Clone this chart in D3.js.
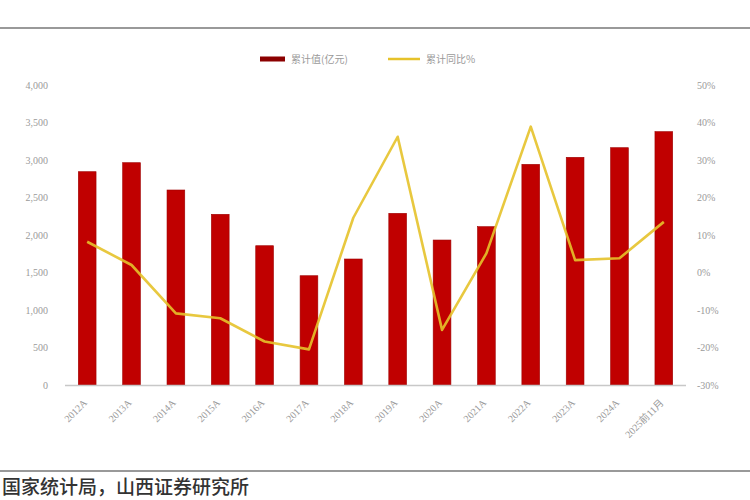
<!DOCTYPE html>
<html><head><meta charset="utf-8">
<script src="https://cdn.jsdelivr.net/npm/d3@7"></script>
<style>body{margin:0;background:#fff;overflow:hidden}</style>
</head><body>
<svg id="c" width="750" height="500"></svg>
<script>
const categories = ["2012A","2013A","2014A","2015A","2016A","2017A","2018A","2019A","2020A","2021A","2022A","2023A","2024A","2025前11月"];
const cumValue = [2844,2964,2600,2276,1857,1457,1680,2289,1933,2111,2942,3036,3164,3378];
const cumYoY = [8.2,2.0,-10.9,-12.2,-18.4,-20.5,14.6,36.2,-15.3,5.1,38.9,3.3,3.8,13.5];
const leftTicks = [0,500,1000,1500,2000,2500,3000,3500,4000];
const rightTicks = [-30,-20,-10,0,10,20,30,40,50];
const seriesNames = ["累计值(亿元)","累计同比%"];
const sourceText = "国家统计局，山西证券研究所";

const svg = d3.select("#c");
const barColor = "#C00000", lineColor = "#E6C22A", tickColor = "#9a9a9a";
const x = d3.scaleBand().domain(categories).range([65,686]).paddingInner(0.6).paddingOuter(0.3);
const yL = d3.scaleLinear().domain([0,4000]).range([385,85]);
const yR = d3.scaleLinear().domain([-30,50]).range([385,85]);

// frame lines
svg.append("line").attr("x1",0).attr("x2",750).attr("y1",28).attr("y2",28).attr("stroke","#999").attr("stroke-width",2);
svg.append("line").attr("x1",0).attr("x2",750).attr("y1",471).attr("y2",471).attr("stroke","#999").attr("stroke-width",2);

// bars
svg.append("g").selectAll("rect").data(cumValue).join("rect")
  .attr("x",(d,i)=>x(categories[i]))
  .attr("width",x.bandwidth())
  .attr("y",d=>yL(d))
  .attr("height",d=>yL(0)-yL(d))
  .attr("fill",barColor).attr("stroke","#9e0000").attr("stroke-width",0.6);

// baseline
svg.append("line").attr("x1",65).attr("x2",686).attr("y1",yL(0)+0.5).attr("y2",yL(0)+0.5).attr("stroke","#c8c8c8").attr("stroke-width",1.5);

// line
const line = d3.line().x((d,i)=>x(categories[i])+x.bandwidth()/2).y(d=>yR(d));
svg.append("path").datum(cumYoY).attr("d",line).attr("fill","none")
  .attr("stroke",lineColor).attr("stroke-width",2.6).attr("stroke-linejoin","round").attr("opacity",0.9);

// left axis
const gL = svg.append("g").attr("transform","translate(48,0)")
  .call(d3.axisLeft(yL).tickValues(leftTicks).tickSize(0).tickPadding(0).tickFormat(d3.format(",")));
gL.select(".domain").remove();
gL.selectAll("text").attr("fill",tickColor).attr("font-family","Liberation Serif, serif").attr("font-size",10);

// right axis
const gR = svg.append("g").attr("transform","translate(697,0)")
  .call(d3.axisRight(yR).tickValues(rightTicks).tickSize(0).tickPadding(0).tickFormat(d=>d+"%"));
gR.select(".domain").remove();
gR.selectAll("text").attr("fill",tickColor).attr("font-family","Liberation Serif, serif").attr("font-size",10);

// x axis labels
const gX = svg.append("g").attr("transform","translate(0,395)")
  .call(d3.axisBottom(x).tickSize(0).tickPadding(0));
gX.select(".domain").remove();
gX.selectAll("text").attr("fill",tickColor).attr("font-family","Liberation Serif, Noto Sans CJK SC, serif").attr("font-size",10)
  .attr("text-anchor","end").attr("dy","0.35em").attr("transform","translate(-2,6) rotate(-45)");

// legend
const lg = svg.append("g").attr("font-family","Noto Sans CJK SC, sans-serif").attr("font-size",10).attr("fill",tickColor);
lg.append("rect").attr("x",260).attr("y",56.5).attr("width",25).attr("height",5).attr("fill","#8B0000");
lg.append("text").attr("x",291).attr("y",63).text(seriesNames[0]);
lg.append("line").attr("x1",388).attr("x2",420).attr("y1",59).attr("y2",59).attr("stroke",lineColor).attr("stroke-width",2.5);
lg.append("text").attr("x",426).attr("y",63).text(seriesNames[1]);

// source
svg.append("text").attr("x",2).attr("y",494).attr("font-family","Noto Sans CJK SC, sans-serif")
  .attr("font-size",19).attr("fill","#333").attr("font-weight",500).text(sourceText);
</script>
</body></html>
